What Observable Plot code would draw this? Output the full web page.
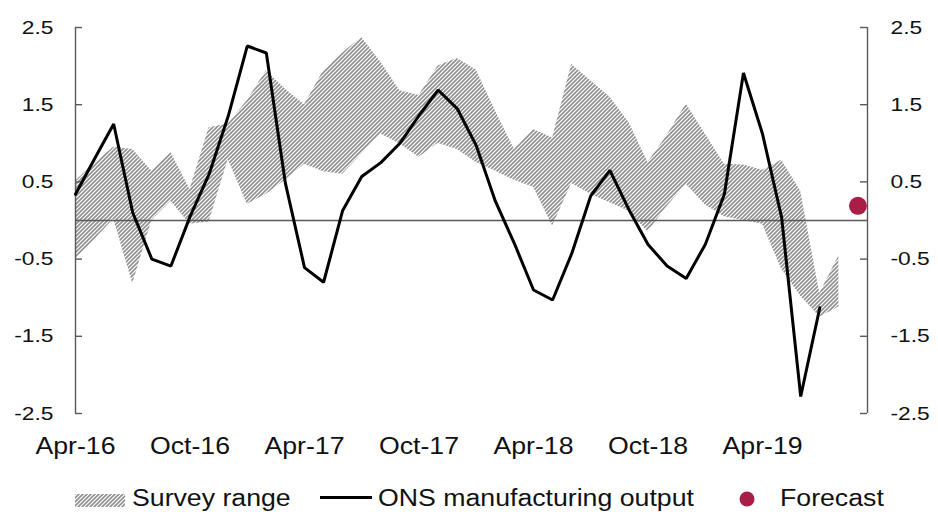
<!DOCTYPE html>
<html><head><meta charset="utf-8">
<script src="https://cdn.jsdelivr.net/npm/d3@7"></script>
<script src="https://cdn.jsdelivr.net/npm/@observablehq/plot@0.6"></script>
<style>
body{margin:0;background:#fff;font-family:"Liberation Sans",Arial,sans-serif;}
#wrap{position:relative;width:938px;height:512px;overflow:hidden;background:#fff;}
#wrap > svg.chart{position:absolute;left:0;top:0;}
.lg{position:absolute;font-size:23px;line-height:23px;color:#111;transform:scaleX(1.16);transform-origin:0 0;white-space:nowrap;}
.sw{position:absolute;}
</style></head><body><div id="wrap"></div>
<script>
const months = ["Apr-16","May-16","Jun-16","Jul-16","Aug-16","Sep-16","Oct-16","Nov-16","Dec-16",
  "Jan-17","Feb-17","Mar-17","Apr-17","May-17","Jun-17","Jul-17","Aug-17","Sep-17","Oct-17","Nov-17","Dec-17",
  "Jan-18","Feb-18","Mar-18","Apr-18","May-18","Jun-18","Jul-18","Aug-18","Sep-18","Oct-18","Nov-18","Dec-18",
  "Jan-19","Feb-19","Mar-19","Apr-19","May-19","Jun-19","Jul-19","Aug-19","Sep-19"];
// ONS manufacturing output, Apr-16 .. Jul-19
const onsOutput = [0.34,0.80,1.25,0.10,-0.50,-0.59,0.05,0.60,1.35,2.26,2.17,0.48,-0.61,-0.80,0.13,0.57,0.75,1.00,1.36,1.69,1.45,
  0.97,0.25,-0.30,-0.90,-1.03,-0.43,0.32,0.65,0.14,-0.31,-0.59,-0.75,-0.31,0.34,1.91,1.12,0.04,-2.28,-1.13];
// Survey range, Apr-16 .. Aug-19
const surveyUpper = [0.51,0.74,0.95,0.92,0.64,0.88,0.40,1.20,1.25,1.55,1.94,1.70,1.50,1.94,2.17,2.37,2.05,1.68,1.62,2.00,2.10,
  1.95,1.42,0.92,1.18,1.07,2.02,1.81,1.60,1.27,0.75,1.10,1.51,1.12,0.73,0.72,0.65,0.78,0.38,-0.95,-0.46];
const surveyLower = [-0.50,-0.25,0.02,-0.82,0.00,0.25,-0.05,-0.02,0.79,0.21,0.34,0.52,0.73,0.63,0.60,0.86,1.12,0.99,0.82,1.00,0.92,
  0.75,0.64,0.52,0.43,-0.07,0.48,0.34,0.23,0.12,-0.15,0.18,0.47,0.20,0.05,0.00,-0.05,-0.63,-0.98,-1.25,-1.12];
const forecastMonth = "Sep-19";
const forecastValue = 0.19;
const yTicks = [-2.5,-1.5,-0.5,0.5,1.5,2.5];
const xTickLabels = ["Apr-16","Oct-16","Apr-17","Oct-17","Apr-18","Oct-18","Apr-19"];

const idx = m => months.indexOf(m);
const onsData = onsOutput.map((v,i)=>({x:i, y:v}));
const surveyData = surveyUpper.map((u,i)=>({x:i, lo:surveyLower[i], hi:u}));
const forecastData = [{x: idx(forecastMonth), y: forecastValue}];
const xDomain = [0, months.length - 0.5];
const fmt = d => String(d);
const AX = "#595959";
const RED = "#a91e47";
const W = 938, ML = 75, MR = 71, TICK = 7;
const frameW = W - ML - MR;

const chart = Plot.plot({
  width: W, height: 478,
  marginLeft: ML, marginRight: MR, marginTop: 27, marginBottom: 65,
  x: {type: "linear", domain: xDomain, label: null},
  y: {domain: [-2.5, 2.5], label: null},
  style: {fontFamily: "'Liberation Sans', Arial, sans-serif", color: "#111", background: "transparent", overflow: "visible"},
  marks: [
    Plot.areaY(surveyData, {x: "x", y1: "lo", y2: "hi", fill: "url(#hatch)"}),
    Plot.ruleY([0], {stroke: AX, strokeWidth: 1.4}),
    Plot.ruleX(xDomain, {stroke: AX, strokeWidth: 1.4}),
    Plot.tickY(yTicks, {y: d => d, insetRight: frameW - TICK, stroke: AX, strokeWidth: 1.4}),
    Plot.tickY(yTicks, {y: d => d, insetLeft: frameW - TICK, stroke: AX, strokeWidth: 1.4}),
    Plot.axisY(yTicks, {anchor: "left", tickSize: 0, tickPadding: 22, tickFormat: fmt, fontSize: 19, label: null}),
    Plot.axisY(yTicks, {anchor: "right", tickSize: 0, tickPadding: 23, tickFormat: fmt, fontSize: 19, label: null}),
    Plot.axisX(xTickLabels.map(idx), {anchor: "bottom", tickSize: 0, tickPadding: 24, tickFormat: i => months[i], fontSize: 23, label: null}),
    Plot.line(onsData, {x: "x", y: "y", stroke: "#000", strokeWidth: 3, strokeLinejoin: "miter"}),
    Plot.dot(forecastData, {x: "x", y: "y", r: 9, fill: RED})
  ]
});
chart.classList.add("chart");
chart.insertAdjacentHTML("afterbegin",
  '<defs><pattern id="hatch" patternUnits="userSpaceOnUse" width="4" height="4">' +
  '<path d="M-1,1 l2,-2 M0,4 l4,-4 M3,5 l2,-2" stroke="#8f8f8f" stroke-width="1.6"/></pattern></defs>');
// widen tick labels horizontally to match the reference's stretched text
chart.querySelectorAll('g[aria-label="y-axis tick label"] text').forEach(t => {
  t.setAttribute("transform", (t.getAttribute("transform") || "") + " scale(1.2,1)");
});
chart.querySelectorAll('g[aria-label="x-axis tick label"] text').forEach(t => {
  t.setAttribute("transform", (t.getAttribute("transform") || "") + " scale(1.16,1)");
});
const wrap = document.getElementById("wrap");
wrap.appendChild(chart);
wrap.insertAdjacentHTML("beforeend",
  '<svg class="sw" style="left:75px;top:494px" width="50" height="13"><rect width="50" height="13" fill="url(#hatch)"/></svg>' +
  '<div class="lg" style="left:132px;top:487px">Survey range</div>' +
  '<svg class="sw" style="left:320px;top:495px" width="52" height="5"><line x1="0" x2="52" y1="2.5" y2="2.5" stroke="#000" stroke-width="3"/></svg>' +
  '<div class="lg" style="left:378px;top:487px">ONS manufacturing output</div>' +
  '<svg class="sw" style="left:739px;top:491px" width="16" height="16"><circle cx="8" cy="8" r="7.5" fill="' + RED + '"/></svg>' +
  '<div class="lg" style="left:780px;top:487px">Forecast</div>');
</script>
</body></html>
